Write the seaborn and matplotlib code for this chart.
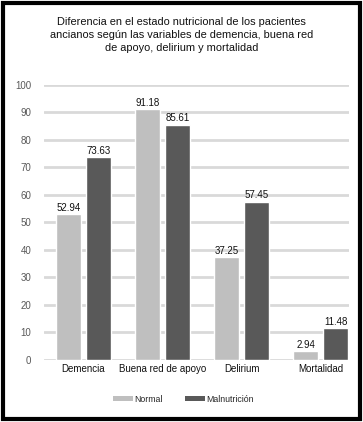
import matplotlib
matplotlib.use("Agg")
import matplotlib.pyplot as plt
import seaborn as sns
import pandas as pd
from matplotlib.patches import Rectangle, Patch

categories = ["Demencia", "Buena red de apoyo", "Delirium", "Mortalidad"]
normal = [52.94, 91.18, 37.25, 2.94]
malnutricion = [73.63, 85.61, 57.45, 11.48]
series_names = ["Normal", "Malnutrición"]
colors = ["#bfbfbf", "#595959"]
title = ("Diferencia en el estado nutricional de los pacientes\n"
         "ancianos según las variables de demencia, buena red\n"
         "de apoyo, delirium y mortalidad")

df = pd.DataFrame({
    "cat": categories * 2,
    "serie": [series_names[0]] * 4 + [series_names[1]] * 4,
    "val": normal + malnutricion,
})

sns.set_theme(style="white")
plt.rcParams["font.family"] = ["Liberation Sans", "DejaVu Sans"]

W, H = 363, 422
fig = plt.figure(figsize=(W / 100, H / 100), dpi=100)
ax = fig.add_axes([44 / W, 1 - 359.5 / H, (349 - 44) / W, (359.5 - 85) / H])

sns.barplot(data=df, x="cat", y="val", hue="serie", palette=colors,
            width=0.76, gap=0.17, ax=ax, legend=False, saturation=1)

for cont in ax.containers:
    ax.bar_label(cont, fmt="%.2f", fontsize=7, padding=1, color="#111111")

ax.set_ylim(0, 100)
ax.set_xlim(-0.5, 3.36)
ax.set_yticks(range(0, 101, 10))
ax.yaxis.grid(True, color="#d9d9d9", linewidth=2)
ax.set_axisbelow(True)
for s in ax.spines.values():
    s.set_visible(False)
ax.tick_params(axis="y", length=0, labelsize=7, labelcolor="#595959", pad=9)
ax.tick_params(axis="x", length=0, labelsize=7, labelcolor="#111111", pad=3)
ax.set_xlabel("")
ax.set_ylabel("")

fig.text(0.5, 1 - 35 / H, title, ha="center", va="center", fontsize=7.95,
         color="#111111", linespacing=1.4)

handles = [Patch(facecolor=c, edgecolor="none") for c in colors]
fig.legend(handles, series_names, loc="center", bbox_to_anchor=(0.505, 1 - 399 / H),
           ncol=2, frameon=False, fontsize=6.3, handlelength=2.3, handleheight=0.55,
           columnspacing=2.6, handletextpad=0.15)

fig.add_artist(Rectangle((3 / W, 3 / H), (W - 6) / W, (H - 6) / H,
                         transform=fig.transFigure, fill=False,
                         edgecolor="black", linewidth=3))

fig.savefig("out.png", dpi=100)
